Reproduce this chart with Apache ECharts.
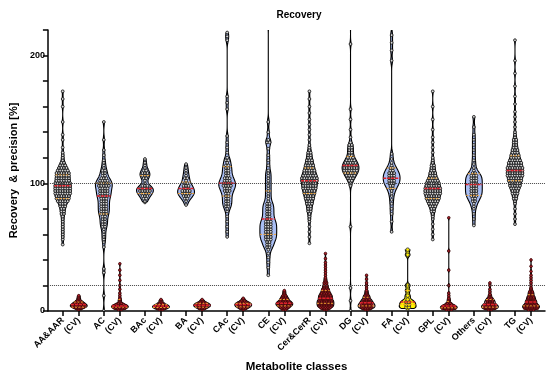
<!DOCTYPE html>
<html><head><meta charset="utf-8">
<script src="https://cdn.jsdelivr.net/npm/echarts@6/dist/echarts.min.js"></script>
<style>html,body{margin:0;padding:0;background:#fff}#c{width:550px;height:378px}</style>
</head><body><div id="c"></div>
<script>
// ---------------- DATA ----------------
const classes = ['AA&AAR','AC','BAc','BA','CAc','CE','Cer&CerR','DG','FA','GPL','Others','TG'];
const cvLabel = '(CV)';
const yTickLabels = [0, 100, 200];
const refLines = [100, 20];

// Recovery [%]: [value, number of metabolites]
const recAAAAR = [[52,1],[56,1],[58,1],[60,1],[62,1],[64,1],[66,1],[68,1],[70,1],[72,1],[74,1],[76,2],[78,2],[80,2],[82,3],[84,3],[86,5],[88,6],[90,6],[92,7],[94,7],[96,7],[98,7],[100,7],[102,6],[104,6],[106,6],[108,6],[110,5],[112,4],[114,3],[116,2],[118,1],[120,1],[122,1],[124,1],[128,1],[134,1],[138,1],[148,1],[160,1],[166,1],[172,1]];
const recAC = [[0,1],[12,1],[30,1],[33,1],[50,1],[54,1],[56,1],[58,1],[60,1],[62,1],[64,1],[66,2],[68,2],[70,2],[72,2],[74,2],[76,3],[78,3],[80,3],[82,3],[84,3],[86,3],[88,3],[90,4],[92,4],[94,4],[96,4],[98,5],[100,5],[102,4],[104,3],[106,2],[108,2],[110,2],[112,1],[114,1],[116,1],[118,1],[122,1],[126,1],[134,1],[148,1]];
const recBAc = [[85,1],[86,1],[88,2],[90,3],[92,4],[94,5],[96,5],[98,3],[100,1],[102,1],[104,2],[106,3],[108,3],[110,2],[112,1],[114,1],[116,1],[119,1]];
const recBA = [[83,1],[86,1],[88,2],[90,3],[92,4],[94,4],[96,3],[98,3],[100,2],[102,1],[104,2],[106,1],[108,1],[110,1],[112,1],[115,1]];
const recCAc = [[58,1],[62,1],[66,1],[70,1],[74,1],[78,1],[80,1],[82,2],[84,2],[86,2],[88,2],[90,2],[92,2],[94,3],[96,3],[98,4],[100,4],[102,3],[104,3],[106,2],[108,2],[110,2],[112,2],[114,2],[116,1],[118,2],[120,1],[124,1],[128,1],[132,1],[137,1],[158,1],[163,1],[168,1],[212,1],[215,1],[218,1]];
const recCE = [[28,1],[34,1],[38,1],[42,1],[45,1],[48,1],[50,2],[52,2],[54,2],[56,3],[58,3],[60,3],[62,3],[64,3],[66,3],[68,3],[70,3],[72,2],[74,2],[76,2],[78,2],[80,2],[82,2],[84,2],[86,1],[88,1],[90,1],[92,1],[94,1],[96,1],[98,1],[100,1],[102,1],[104,1],[106,1],[108,1],[110,1],[114,1],[118,1],[122,1],[127,1],[132,2],[134,1],[140,1],[148,1],[225,1]];
const recCerCerR = [[53,1],[58,1],[62,1],[66,1],[70,1],[72,1],[74,1],[76,1],[78,2],[80,2],[82,2],[84,3],[86,3],[88,4],[90,4],[92,5],[94,5],[96,6],[98,6],[100,6],[102,7],[104,7],[106,6],[108,5],[110,5],[112,4],[114,4],[116,3],[118,3],[120,2],[122,2],[124,2],[126,1],[128,1],[130,1],[134,1],[138,1],[142,1],[146,1],[150,1],[155,1],[160,1],[166,1],[172,1]];
const recDG = [[0,1],[8,1],[18,1],[66,1],[98,1],[100,1],[102,2],[104,3],[106,4],[108,5],[110,6],[112,6],[114,6],[116,5],[118,4],[120,3],[122,2],[124,2],[126,2],[128,2],[130,2],[132,1],[136,1],[142,1],[150,1],[158,1],[209,1],[225,1]];
const recFA = [[62,1],[70,1],[76,1],[80,1],[84,1],[87,1],[90,1],[92,1],[94,1],[96,2],[98,2],[100,3],[102,3],[104,3],[106,3],[108,3],[110,2],[112,2],[114,1],[116,1],[119,1],[123,1],[196,1],[204,1],[210,1],[216,1],[225,1]];
const recGPL = [[56,1],[60,1],[64,1],[68,1],[72,1],[74,1],[76,1],[78,2],[80,2],[82,3],[84,4],[86,5],[88,6],[90,6],[92,7],[94,7],[96,7],[98,6],[100,6],[102,5],[104,4],[106,3],[108,3],[110,2],[112,2],[114,2],[116,1],[118,1],[120,1],[124,1],[128,1],[132,1],[136,1],[142,1],[150,1],[160,1],[172,1]];
const recOthers = [[67,1],[72,1],[76,1],[80,1],[82,1],[84,1],[86,2],[88,2],[90,3],[92,3],[94,3],[96,3],[98,3],[100,3],[102,3],[104,3],[106,3],[108,2],[110,1],[112,1],[115,1],[118,1],[122,1],[126,1],[130,1],[134,1],[138,1],[144,1],[152,1]];
const recTG = [[68,1],[72,1],[76,1],[80,1],[84,1],[86,1],[88,2],[90,2],[92,3],[94,3],[96,4],[98,5],[100,5],[102,6],[104,6],[106,7],[108,7],[110,7],[112,7],[114,6],[116,6],[118,5],[120,4],[122,4],[124,3],[126,3],[128,2],[130,2],[132,2],[134,2],[136,1],[138,1],[140,1],[144,1],[148,1],[152,1],[156,1],[162,1],[168,1],[176,1],[186,1],[196,1],[212,1]];

// Precision (CV) [%]: [value, number of metabolites]
const cvAAAAR = [[1,1],[2,3],[3,5],[4,6],[5,5],[6,4],[7,3],[8,2],[9,1],[10,1],[11,1],[12,1]];
const cvAC = [[1,2],[2,5],[3,6],[4,6],[5,4],[6,2],[7,1],[8,1],[9,1],[10,1],[12,1],[14,1],[17,1],[20,1],[24,1],[28,1],[32,1],[37,1]];
const cvBAc = [[1,2],[2,4],[3,5],[4,5],[5,3],[6,2],[7,1],[8,1],[9,1]];
const cvBA = [[1,1],[2,3],[3,4],[4,5],[5,5],[6,4],[7,2],[8,1],[9,1]];
const cvCAc = [[1,1],[2,3],[3,4],[4,5],[5,5],[6,5],[7,3],[8,2],[9,1],[10,1]];
const cvCE = [[1,2],[2,3],[3,4],[4,5],[5,6],[6,6],[7,5],[8,4],[9,3],[10,3],[11,2],[12,2],[13,1],[14,1],[15,1],[16,1]];
const cvCerCerR = [[1,2],[2,4],[3,5],[4,6],[5,6],[6,6],[7,6],[8,6],[9,5],[10,5],[11,5],[12,5],[13,4],[14,4],[15,3],[16,3],[17,3],[18,2],[19,2],[20,2],[21,1],[22,2],[23,1],[24,1],[25,1],[26,1],[28,1],[30,1],[32,1],[34,1],[36,1],[38,1],[41,1],[45,1]];
const cvDG = [[1,2],[2,4],[3,5],[4,5],[5,5],[6,4],[7,4],[8,3],[9,3],[10,2],[11,2],[12,2],[13,1],[14,1],[15,1],[16,1],[18,1],[20,1],[22,1],[25,1],[28,1]];
const cvFA = [[2,1],[3,2],[5,2],[7,2],[9,1],[12,1],[16,1],[20,1],[44,1],[48,1]];
const cvGPL = [[1,3],[2,6],[3,6],[4,5],[5,3],[6,2],[7,1],[8,1],[9,1],[10,1],[12,1],[14,1],[20,1],[32,1],[47,1],[73,1]];
const cvOthers = [[1,2],[2,5],[3,5],[4,5],[5,4],[6,3],[7,3],[8,3],[9,2],[10,2],[11,1],[12,1],[13,1],[15,1],[17,1],[20,1],[22,1]];
const cvTG = [[1,3],[2,6],[3,6],[4,6],[5,5],[6,4],[7,4],[8,4],[9,3],[10,3],[11,3],[12,2],[13,2],[14,2],[15,2],[16,1],[17,1],[18,1],[20,1],[22,1],[24,1],[26,1],[28,1],[31,1],[35,1],[40,1]];

const recSets = [recAAAAR, recAC, recBAc, recBA, recCAc, recCE, recCerCerR, recDG, recFA, recGPL, recOthers, recTG];
const cvSets = [cvAAAAR, cvAC, cvBAc, cvBA, cvCAc, cvCE, cvCerCerR, cvDG, cvFA, cvGPL, cvOthers, cvTG];

// ---------------- LAYOUT / STYLE ----------------
const FF = 'Liberation Sans, Arial, sans-serif';
const CV_OFFSET = 0.39;
const HW = 8.4, DX = 2.5;
const sparse = {1:1, 3:1, 4:1, 5:1, 8:1, 10:1};

function buildProfile(pairs, h, step, keepLow) {
  let lo = Infinity, hi = -Infinity;
  pairs.forEach(p => { lo = Math.min(lo, p[0]); hi = Math.max(hi, p[0]); });
  const N = Math.max(2, Math.ceil((hi - lo) / step));
  const prof = []; let mx = 0;
  for (let k = 0; k <= N; k++) {
    const y = lo + (hi - lo) * k / N;
    let d = 0;
    pairs.forEach(p => { const z = (y - p[0]) / h; d += p[1] * Math.exp(-0.5 * z * z); });
    prof.push([y, d]); mx = Math.max(mx, d);
  }
  prof.forEach(p => p[1] /= mx);
  if (!keepLow) prof[0][1] = 0;
  prof[prof.length - 1][1] = 0;
  return prof;
}
function widthAt(prof, v) {
  for (let i = 1; i < prof.length; i++) {
    if (v <= prof[i][0]) {
      const a = prof[i-1], b = prof[i];
      const t = (b[0] - a[0]) ? (v - a[0]) / (b[0] - a[0]) : 0;
      return a[1] + (b[1] - a[1]) * t;
    }
  }
  return prof[prof.length - 1][1];
}
function quantiles(pairs) {
  const all = [];
  pairs.forEach(p => { for (let k = 0; k < p[1]; k++) all.push(p[0]); });
  all.sort((a, b) => a - b);
  const q = f => { const pos = (all.length - 1) * f; const i = Math.floor(pos); const t = pos - i; return all[i] + ((all[i+1] !== undefined ? all[i+1] : all[i]) - all[i]) * t; };
  return [q(0.25), q(0.5), q(0.75)];
}

const items = [];
classes.forEach((c, i) => {
  items.push({x: i, pairs: recSets[i], prof: buildProfile(recSets[i], sparse[i] ? 2.6 : 2.2, 0.5, false),
    fill: '#a9bef4', dotFill: '#d9d9d9', dotStroke: '#111', r: 1.4, q: quantiles(recSets[i])});
  const yellow = i === 8;
  items.push({x: i + CV_OFFSET, pairs: cvSets[i], prof: buildProfile(cvSets[i], yellow ? 1.4 : 1.0, 0.25, true),
    fill: yellow ? '#fff200' : '#e79aa6', dotFill: yellow ? '#ffee00' : '#b3202c', dotStroke: yellow ? '#333' : '#3a0808', r: yellow ? 1.8 : 1.3, q: quantiles(cvSets[i])});
});

const tickVals = [], tickNames = [];
classes.forEach((c, i) => { tickVals.push(i, i + CV_OFFSET); tickNames.push(c, cvLabel); });
function labelFor(v) { for (let i = 0; i < tickVals.length; i++) if (Math.abs(tickVals[i] - v) < 1e-6) return tickNames[i]; return ''; }

function renderItem(params, api) {
  const it = items[params.dataIndex];
  const children = [];
  const L = [], R = [];
  it.prof.forEach(([v, w]) => { const c = api.coord([it.x, v]); L.push([c[0] - w * HW, c[1]]); R.push([c[0] + w * HW, c[1]]); });
  children.push({type: 'polygon', shape: {points: L.concat(R.reverse())}, style: {fill: it.fill, stroke: '#000', lineWidth: 1.1}});
  it.pairs.forEach(([v, n]) => {
    const c = api.coord([it.x, v]);
    const hw = widthAt(it.prof, v) * HW;
    const sp = n > 1 ? Math.min(DX, Math.max(2 * hw - 1, 1.5) / (n - 1)) : 0;
    for (let k = 0; k < n; k++) {
      children.push({type: 'circle', shape: {cx: c[0] + (k - (n - 1) / 2) * sp, cy: c[1], r: it.r},
        style: {fill: it.dotFill, stroke: it.dotStroke, lineWidth: 0.85}});
    }
  });
  it.q.forEach((v, j) => {
    const c = api.coord([it.x, v]);
    const hw = Math.max(widthAt(it.prof, v) * HW, 1.5);
    children.push({type: 'line', shape: {x1: c[0] - hw, y1: c[1], x2: c[0] + hw, y2: c[1]},
      style: j === 1 ? {stroke: '#e0222c', lineWidth: 1.5, lineDash: [3, 1]} : {stroke: '#f0a030', lineWidth: 1, lineDash: [2, 1.5]}});
  });
  return {type: 'group', children};
}

const chart = echarts.init(document.getElementById('c'), null, {renderer: 'canvas'});
chart.setOption({
  animation: false,
  title: {text: 'Recovery', left: 294, top: 5, textAlign: 'center',
    textStyle: {fontFamily: FF, fontSize: 10, fontWeight: 'bold', color: '#000'}},
  grid: {left: 42, right: 5, top: 30, bottom: 65},
  xAxis: {type: 'value', min: -0.36, max: 11.73, splitLine: {show: false},
    axisLine: {onZero: false, lineStyle: {color: '#000', width: 1.5}},
    axisTick: {customValues: tickVals, length: 5, lineStyle: {color: '#000', width: 1.5}},
    axisLabel: {customValues: tickVals, formatter: v => labelFor(v), rotate: 45, margin: 8,
      fontFamily: FF, fontSize: 9, fontWeight: 'bold', color: '#000'},
    name: 'Metabolite classes', nameLocation: 'middle', nameGap: 50,
    nameTextStyle: {fontFamily: FF, fontSize: 11.5, fontWeight: 'bold', color: '#000'}},
  yAxis: {type: 'value', min: 0, max: 220, interval: 20, splitLine: {show: false},
    axisLine: {show: true, onZero: false, lineStyle: {color: '#000', width: 1.5}},
    axisTick: {show: true, length: 5, lineStyle: {color: '#000', width: 1.5}},
    axisLabel: {formatter: v => yTickLabels.indexOf(v) >= 0 ? String(v) : '', margin: 3,
      fontFamily: FF, fontSize: 9, fontWeight: 'bold', color: '#000'},
    name: 'Recovery  & precision [%]', nameLocation: 'middle', nameGap: 23,
    nameTextStyle: {fontFamily: FF, fontSize: 11, fontWeight: 'bold', color: '#000'}},
  series: [
    {type: 'line', data: [], z: 1, silent: true,
      markLine: {silent: true, symbol: ['none', 'none'], label: {show: false},
        lineStyle: {type: 'dotted', color: '#444', width: 1}, data: refLines.map(v => ({yAxis: v}))}},
    {type: 'custom', renderItem, clip: true, z: 3, encode: {x: 0, y: 1},
      data: items.map((it, i) => [it.x, 0, i])}
  ]
});
</script></body></html>
